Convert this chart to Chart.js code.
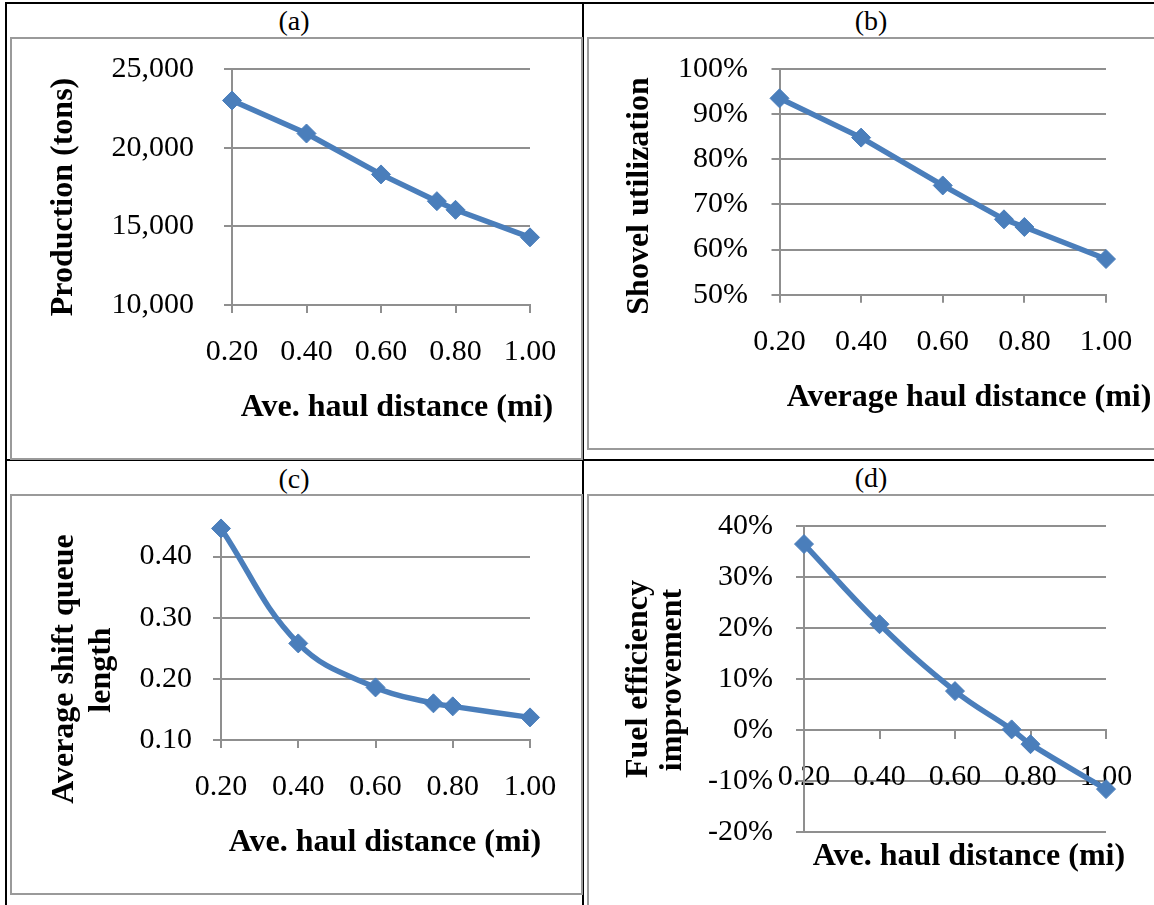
<!DOCTYPE html>
<html>
<head>
<meta charset="utf-8">
<script src="https://cdn.jsdelivr.net/npm/chart.js@4/dist/chart.umd.min.js"></script>
<style>
body { margin: 0; background: #fff; width: 1154px; height: 905px; overflow: hidden; position: relative; font-family: "Liberation Serif", "Times New Roman", serif; }
.rule { position: absolute; background: #000; }
.box { position: absolute; border: 2px solid #9a9a9a; box-sizing: border-box; }
.hdr { position: absolute; width: 100px; font-size: 28px; line-height: 28px; text-align: center; }
canvas { position: absolute; }
</style>
</head>
<body>
<!-- table rules -->
<div class="rule" style="left:5px;top:2px;width:1149px;height:2px"></div>
<div class="rule" style="left:5px;top:2px;width:2px;height:903px"></div>
<div class="rule" style="left:582px;top:2px;width:2px;height:903px"></div>
<div class="rule" style="left:5px;top:459px;width:1149px;height:2px"></div>

<div class="hdr" style="left:244px;top:7px">(a)</div>
<div class="hdr" style="left:821px;top:7px">(b)</div>
<div class="hdr" style="left:244px;top:465px">(c)</div>
<div class="hdr" style="left:821px;top:464px">(d)</div>

<div class="box" style="left:10px;top:37px;width:573px;height:423px"></div>
<div class="box" style="left:587px;top:37px;width:580px;height:413px"></div>
<div class="box" style="left:10px;top:494px;width:573px;height:401px"></div>
<div class="box" style="left:587px;top:494px;width:580px;height:420px"></div>

<canvas id="chartA" width="573" height="423" style="left:10px;top:37px"></canvas>
<canvas id="chartB" width="580" height="413" style="left:587px;top:37px"></canvas>
<canvas id="chartC" width="573" height="401" style="left:10px;top:494px"></canvas>
<canvas id="chartD" width="580" height="420" style="left:587px;top:494px"></canvas>

<script>
// data
const haulDistance = [0.20, 0.40, 0.60, 0.75, 0.80, 1.00];
const productionTons = [23000, 20900, 18300, 16600, 16050, 14300];
const shovelUtilization = [93.5, 84.8, 74.2, 66.7, 65.0, 57.9];
const queueLength = [0.446, 0.258, 0.186, 0.160, 0.155, 0.137];
const fuelImprovement = [36.4, 20.7, 7.6, 0.1, -2.8, -11.6];

// tick labels
const xTicks = [0.2, 0.4, 0.6, 0.8, 1.0];
const prodTicks = [10000, 15000, 20000, 25000];
const utilTicks = [50, 60, 70, 80, 90, 100];
const queueTicks = [0.1, 0.2, 0.3, 0.4];
const fuelTicks = [-20, -10, 0, 10, 20, 30, 40];

const BLUE = '#4a7ebb';
const GRID = '#8f8f8f';
const FAMILY = '"Liberation Serif", "Times New Roman", serif';
const TICK_FONT = { family: FAMILY, size: 30, lineHeight: 1.2 };

// axis titles drawn at fixed spots, like the free-floating Excel titles
const axisTitles = {
  id: 'axisTitles',
  afterDraw(chart, args, opts) {
    const ctx = chart.ctx;
    ctx.save();
    ctx.fillStyle = '#000';
    ctx.font = 'bold 32px ' + FAMILY;
    ctx.textAlign = 'center';
    ctx.textBaseline = 'middle';
    for (const t of opts.items) {
      ctx.save();
      ctx.translate(t.x, t.y);
      if (t.rot) ctx.rotate(-Math.PI / 2);
      ctx.fillText(t.text, 0, 0);
      ctx.restore();
    }
    ctx.restore();
  }
};

function makeChart(id, o) {
  const cv = document.getElementById(id);
  const w = cv.width, h = cv.height;
  const xAxisH = o.xAtZero ? 0 : 60;
  new Chart(cv, {
    type: 'line',
    data: {
      datasets: [{
        data: haulDistance.map((x, i) => ({ x: x, y: o.values[i] })),
        borderColor: BLUE,
        backgroundColor: BLUE,
        borderWidth: 5.5,
        pointStyle: 'rectRot',
        pointRadius: 9.5,
        pointBorderWidth: 1,
        tension: o.tension,
        fill: false,
        clip: false
      }]
    },
    options: {
      responsive: false,
      animation: false,
      events: [],
      layout: {
        autoPadding: false,
        padding: { left: 0, top: o.area.top, right: w - o.area.right, bottom: h - o.area.bottom - xAxisH }
      },
      plugins: {
        legend: { display: false },
        tooltip: { enabled: false },
        axisTitles: { items: o.titles }
      },
      scales: {
        x: {
          type: 'linear',
          min: 0.2,
          max: 1.0,
          position: o.xAtZero ? { y: 0 } : 'bottom',
          afterBuildTicks: s => { s.ticks = xTicks.map(v => ({ value: v })); },
          afterFit: s => { s.height = xAxisH; s.paddingLeft = 0; s.paddingRight = 0; },
          grid: { drawOnChartArea: false, tickLength: 8, color: GRID, lineWidth: 2 },
          border: { color: GRID, width: 2 },
          ticks: { padding: 21, font: TICK_FONT, color: '#000', maxRotation: 0, autoSkip: false, callback: v => v.toFixed(2) }
        },
        y: {
          type: 'linear',
          min: o.min,
          max: o.max,
          afterBuildTicks: s => { s.ticks = o.yTicks.map(v => ({ value: v })); },
          afterFit: s => { s.width = o.area.left; s.paddingTop = 0; s.paddingBottom = 0; },
          grid: { tickLength: 8, color: GRID, lineWidth: 2 },
          border: { color: GRID, width: 2 },
          ticks: { padding: o.yPad, font: TICK_FONT, color: '#000', autoSkip: false, callback: o.fmt }
        }
      }
    },
    plugins: [axisTitles]
  });
}

makeChart('chartA', {
  values: productionTons, yTicks: prodTicks, min: 10000, max: 25000, tension: 0,
  area: { left: 222, right: 520, top: 32, bottom: 268 }, yPad: 30,
  fmt: v => v.toLocaleString('en-US'),
  titles: [
    { text: 'Ave. haul distance (mi)', x: 387, y: 371 },
    { text: 'Production (tons)', x: 54, y: 160, rot: true }
  ]
});

makeChart('chartB', {
  values: shovelUtilization, yTicks: utilTicks, min: 50, max: 100, tension: 0,
  area: { left: 192.5, right: 519, top: 32, bottom: 257.7 }, yPad: 23.5,
  fmt: v => v + '%',
  titles: [
    { text: 'Average haul distance (mi)', x: 382, y: 361 },
    { text: 'Shovel utilization', x: 53, y: 159, rot: true }
  ]
});

makeChart('chartC', {
  values: queueLength, yTicks: queueTicks, min: 0.1, max: 0.45, tension: 0.4,
  area: { left: 211, right: 520, top: 32, bottom: 246 }, yPad: 21,
  fmt: v => v.toFixed(2),
  titles: [
    { text: 'Ave. haul distance (mi)', x: 375, y: 349 },
    { text: 'Average shift queue', x: 55, y: 175, rot: true },
    { text: 'length', x: 92, y: 176, rot: true }
  ]
});

makeChart('chartD', {
  values: fuelImprovement, yTicks: fuelTicks, min: -20, max: 40, tension: 0.4, xAtZero: true,
  area: { left: 217, right: 519, top: 31.7, bottom: 338 }, yPad: 23,
  fmt: v => v + '%',
  titles: [
    { text: 'Ave. haul distance (mi)', x: 382, y: 363 },
    { text: 'Fuel efficiency', x: 52, y: 185, rot: true },
    { text: 'improvement', x: 86, y: 186, rot: true }
  ]
});
</script>
</body>
</html>
